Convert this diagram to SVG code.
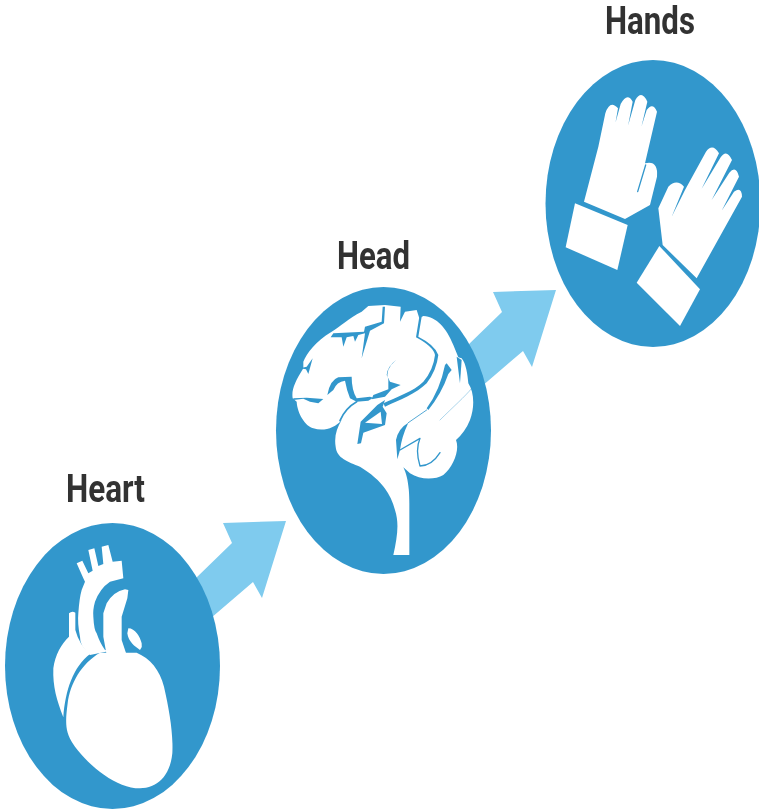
<svg xmlns="http://www.w3.org/2000/svg" width="759" height="811" viewBox="0 0 759 811">
<style>
.disc{fill:#3397cc}
.w{fill:#fff}
.b{fill:#3397cc}
.g{fill:none;stroke:#3397cc;stroke-linecap:round;stroke-linejoin:round}
.arrow{fill:#7fcbee}
text{font-family:Roboto,"Liberation Sans",sans-serif;font-weight:700;font-size:38px;fill:#333;text-anchor:start}
</style>
<defs><filter id="soft" x="-5%" y="-5%" width="110%" height="110%"><feGaussianBlur stdDeviation="0.6"/></filter></defs>
<rect width="759" height="811" fill="#fff"/>
<g filter="url(#soft)">
<g id="connectors">
<path class="arrow" d="M196,578L232,543L223,523L286,521L262,598L253,582L211,618Z"/>
<path class="arrow" d="M466,347L502,312L493,292L556,290L532,367L523,351L481,387Z"/>
</g>
<g id="heart">
<text x="66" y="502" textLength="79" lengthAdjust="spacingAndGlyphs">Heart</text>
<ellipse class="disc" cx="112.500" cy="666" rx="107.500" ry="143"/>
<g transform="translate(0 460) scale(.33333)">
<path class="w" d="M300,578L410,578C450,595 480,630 492,680C508,750 520,820 517,880C510,950 470,985 420,985C350,985 270,920 225,860C195,820 195,790 203,730C210,670 245,610 300,578Z"/>
<path class="w" d="M230,310L247,302L265,340L278,332L265,270L283,265L295,318L310,312L305,260L325,255L338,305L365,302L370,355L330,365Q300,385 285,425Q278,450 280,470Q282,510 290,520Q300,550 315,570L332,572L270,585L260,575Q240,555 240,530Q232,490 235,460Q238,415 245,390L255,365L250,355Z"/>
<path class="w" d="M375,388L385,390L382,415L365,470L365,540L380,585L320,585L310,530L310,460L320,430Q340,395 375,388Z"/>
<path class="w" d="M207,460Q216,452 226,458L226,510Q238,555 270,582C220,620 196,690 190,772C170,720 158,680 160,625C165,585 185,550 207,530Z"/>
<path class="w" d="M385,505C405,505 420,530 425,550Q428,560 420,570C405,560 385,545 382,520Z"/>
</g>
</g>
<g id="head">
<text x="337" y="269" textLength="73" lengthAdjust="spacingAndGlyphs">Head</text>
<ellipse class="disc" cx="383.500" cy="430.500" rx="107.500" ry="143.500"/>
<g transform="translate(290 300) scale(.33333)">
<path class="w" d="M8,295C4,270 15,245 40,205L40,185C50,160 75,125 125,95C150,80 175,55 215,35L235,18L285,15L332,20L330,65L345,35L380,30L388,55L400,48C440,50 470,85 490,135L505,172L515,175C528,190 533,225 535,250C552,275 555,320 540,360C530,385 515,405 498,420C510,450 490,500 460,525C435,540 390,540 360,520L340,502C352,525 358,560 358,610L358,765L310,765C322,710 328,670 315,630C300,570 260,530 210,500C175,485 140,475 137,440C132,410 140,385 155,360C135,385 100,395 70,385C45,378 22,340 20,305Z"/>
<path class="b" d="M278,20L275,65L225,80L222,95L130,100L122,112L155,112L160,140L170,112L190,108L195,125L205,105L225,100L215,175L240,92L282,70L285,20Z"/>
<path class="b" d="M30,205L50,200L68,175L55,222L48,208Z"/>
<path class="b" d="M10,295L50,293L100,297L85,310L60,305L40,296L10,300Z"/>
<path class="b" d="M112,285Q120,240 145,232L185,230Q185,270 200,295L240,290L250,293L235,302L200,305L180,295Q170,270 165,242Q140,245 130,270Z"/>
<path class="b" d="M318,180Q292,200 290,225L300,245L332,255L305,268L285,290L245,298L250,285L295,268L295,240Q283,210 318,180Z"/>
<path class="b" d="M285,320C330,300 380,280 410,250Q440,210 445,165Q435,135 385,110L395,50L388,50L378,112Q430,140 435,165Q430,210 400,245C370,275 320,290 280,310Z"/>
<path class="b" d="M285,300L262,315L212,365L202,432L213,430L220,398L285,375L290,340L278,320Z"/>
<path class="w" d="M225,368L272,335L276,372Z"/>
<path class="b" d="M465,195L470,190L485,210L475,222Q455,280 415,330L410,325Q450,270 465,195Z"/>
<path class="b" d="M500,170L515,180L510,250Z"/>
<path class="b" d="M355,368Q325,385 318,420L322,478L330,450Q335,410 355,368Z"/>
<g class="g">
<path stroke-width="5" d="M150,362Q165,325 200,305"/>
<path stroke-width="2" opacity=".6" d="M545,265C525,290 490,320 450,360"/>
<path stroke-width="2.500" d="M355,368L410,330"/>
<path stroke-width="4" d="M330,450L390,415Q375,450 390,498Q425,498 450,458"/>
</g>
</g>
</g>
<g id="hands">
<text x="605" y="34" textLength="90" lengthAdjust="spacingAndGlyphs">Hands</text>
<ellipse class="disc" cx="653" cy="203.500" rx="107.500" ry="143.500"/>
<g transform="translate(530 0) scale(.33333)">
<path class="w" d="M162,605L205,440L226,340Q240,298 264,325L250,406L246,406L272,312Q292,275 308,305L286,420L282,420L316,300Q335,268 352,305L322,432L318,432L350,330Q368,305 381,335L345,490Q385,480 381,530L360,615L285,657Z"/>
<path class="w" d="M135,610L293,675L262,810L107,742Z"/>
<g class="g" stroke-width="4"><path d="M347,495L323,575"/></g>
<path class="w" d="M398,735L385,625L415,560Q440,535 462,560L425,650L465,570L528,455Q548,428 567,460L515,566L572,472Q590,445 606,480L545,600L598,518Q618,495 627,530L575,632L612,575Q635,558 636,590L500,835Z"/>
<path class="w" d="M388,738L510,868L450,978L320,848Z"/>
</g>
</g>
</g>
</svg>
